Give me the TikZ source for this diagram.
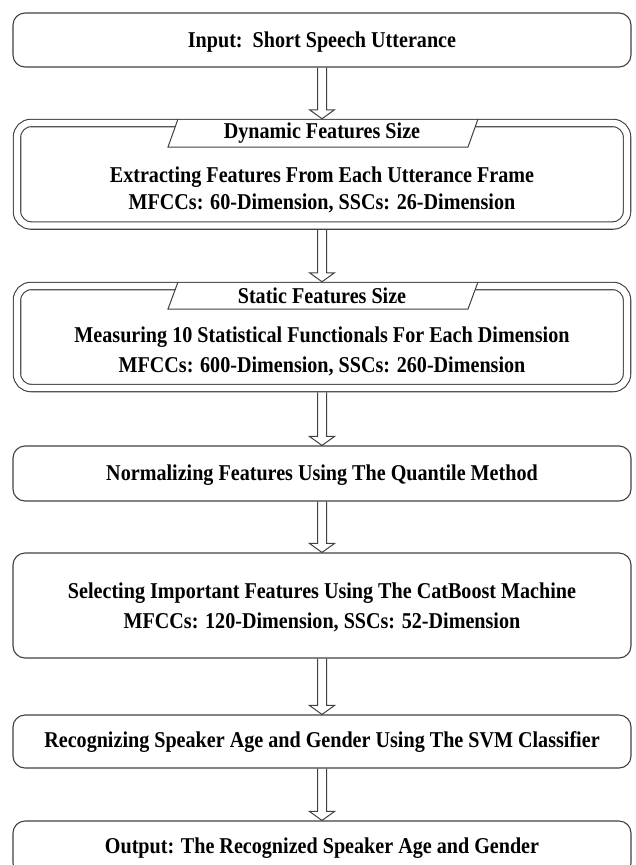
\documentclass[tikz,border=0pt]{standalone}
\usepackage{fontspec}
\setmainfont{Liberation Serif}[FakeStretch=0.89]
\usetikzlibrary{calc}
\newcommand\harrow[2]{%
  \draw[arr] ($(#1.south)+(-4.5,0)$) -- ($(#2.north)+(-4.5,-9)$) -- ++(-8,0) -- (#2.north)
    -- ($(#2.north)+(12.5,-9)$) -- ++(-8,0) -- ($(#1.south)+(4.5,0)$);}
\newcommand\tabshape[3]{% top y, bottom y, name
  \fill[white] (168,#2) -- (178,#1+1) -- (478,#1+1) -- (468,#2) -- cycle;
  \draw[arr] (178,#1) -- (168,#2) -- (468,#2) -- (478,#1);}
\begin{document}
\begin{tikzpicture}[x=1pt,y=-1pt,
  box/.style={draw=black!75, line width=1.1pt, rounded corners=12pt, minimum width=618pt, inner sep=0pt},
  dbox/.style={draw=black!75, line width=1.1pt, double, double distance=6.3pt, rounded corners=14pt,
               minimum width=610pt, inner sep=0pt, outer sep=4.25pt},
  lbl/.style={font=\fontsize{22.6}{27}\selectfont\bfseries, inner sep=0pt, text=black},
  arr/.style={draw=black!75, line width=1pt, line join=miter}
]
\useasboundingbox (0,0) rectangle (635,865);
\clip (0,0) rectangle (635,865);

% boxes
\node[box, minimum height=54pt] (b1) at (322,40) {};
\node[dbox, minimum height=102.5pt] (b2) at (322,174.25) {};
\node[dbox, minimum height=102pt] (b3) at (322,337) {};
\node[box, minimum height=55pt] (b4) at (322,473.5) {};
\node[box, minimum height=105pt] (b5) at (322,605.5) {};
\node[box, minimum height=53pt] (b6) at (322,741.5) {};
\node[box, minimum height=54pt] (b7) at (322,848) {};

% tabs
\tabshape{119}{147}{tab2}
\tabshape{282}{309}{tab3}

% texts
\node[lbl] (t1) at (322,42) {Input:\ \ Short Speech Utterance};
\node[lbl] (t2a) at (322,133) {Dynamic Features Size};
\node[lbl] (t2b) at (322,177) {Extracting Features From Each Utterance Frame};
\node[lbl] (t2c) at (322,203) {MFCCs: 60-Dimension, SSCs: 26-Dimension};
\node[lbl] (t3a) at (322,296) {Static Features Size};
\node[lbl] (t3b) at (322,337) {Measuring 10 Statistical Functionals For Each Dimension};
\node[lbl] (t3c) at (322,366) {MFCCs: 600-Dimension, SSCs: 260-Dimension};
\node[lbl] (t4) at (322,475) {Normalizing Features Using The Quantile Method};
\node[lbl] (t5a) at (322,593) {Selecting Important Features Using The CatBoost Machine};
\node[lbl] (t5b) at (322,622) {MFCCs: 120-Dimension, SSCs: 52-Dimension};
\node[lbl] (t6) at (322,742) {Recognizing Speaker Age and Gender Using The SVM Classifier};
\node[lbl] (t7) at (322,848) {Output: The Recognized Speaker Age and Gender};

% arrows
\harrow{b1}{b2}
\harrow{b2}{b3}
\harrow{b3}{b4}
\harrow{b4}{b5}
\harrow{b5}{b6}
\harrow{b6}{b7}
\end{tikzpicture}
\end{document}
